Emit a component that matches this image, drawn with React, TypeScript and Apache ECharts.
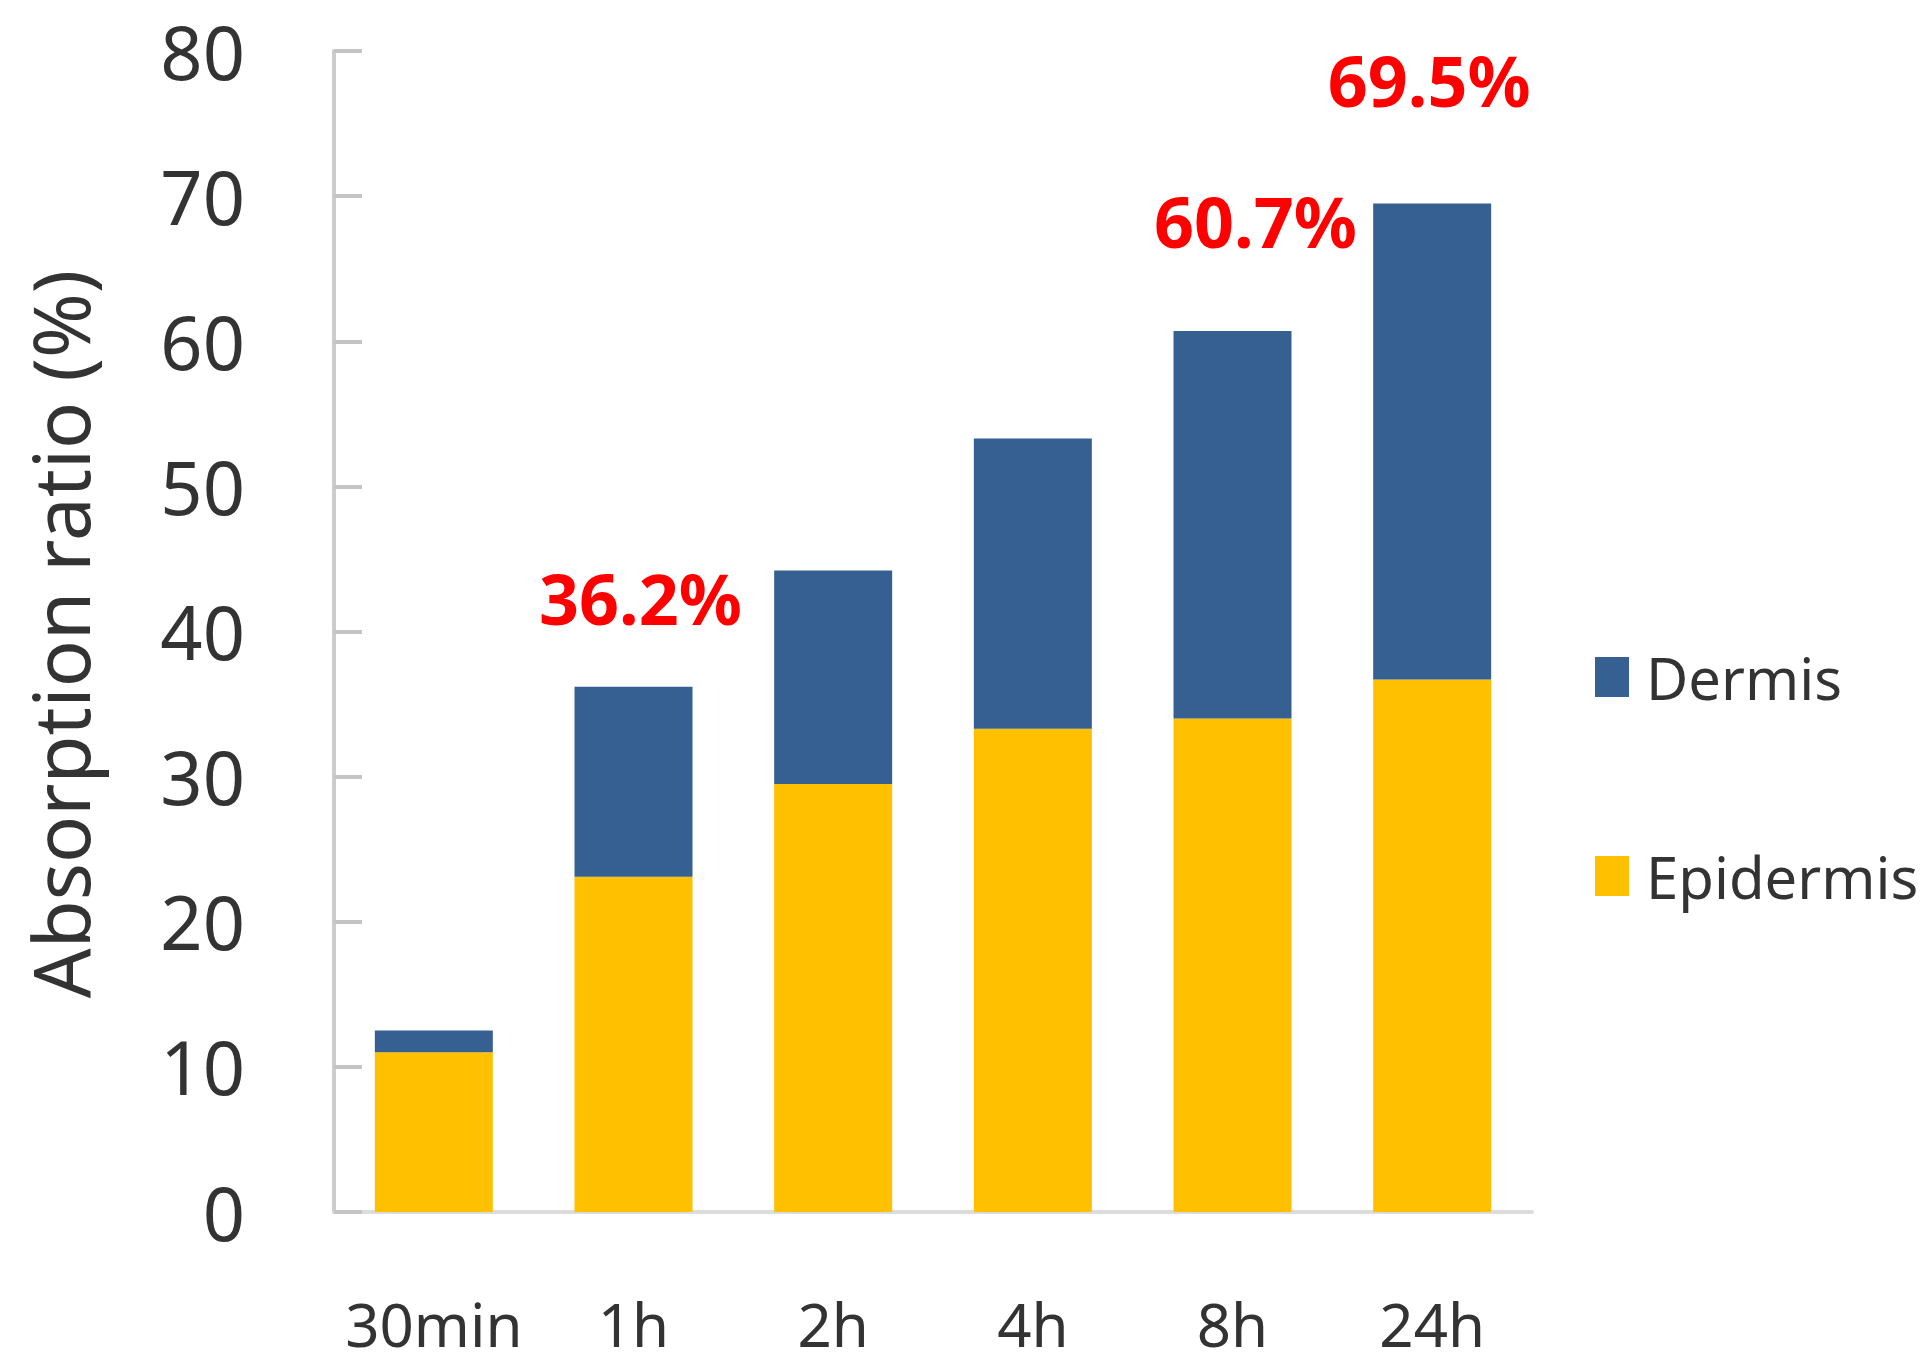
import React, { useEffect, useRef } from "react";
import * as echarts from "echarts";

const categories = ["30min", "1h", "2h", "4h", "8h", "24h"];
const epidermis = [11.0, 23.1, 29.5, 33.3, 34.0, 36.7];
const dermis = [1.5, 13.1, 14.7, 20.0, 26.7, 32.8];
const totalLabels = ["", "36.2%", "", "", "60.7%", "69.5%"];
const yMin = 0;
const yMax = 80;
const yInterval = 10;

// label placement styling (not data)
const labelDistance = [0, 54, 0, 0, 75, 88];
const labelDx = [0, 7, 0, 0, 23, -3];

const FONT = "'Noto Sans', 'DejaVu Sans', sans-serif";

export default function App() {
  const ref = useRef<HTMLDivElement>(null);
  useEffect(() => {
    if (!ref.current) return;
    const chart = echarts.init(ref.current, undefined, { renderer: "svg" });
    const dermisData = dermis.map((v, i) =>
      totalLabels[i]
        ? {
            value: v,
            label: {
              show: true,
              position: "top",
              formatter: totalLabels[i],
              distance: labelDistance[i],
              offset: [labelDx[i], 0],
              color: "#FF0000",
              fontWeight: "bold",
              fontSize: 70,
              lineHeight: 70,
              fontFamily: FONT,
            },
          }
        : v
    );
    chart.setOption({
      animation: false,
      backgroundColor: "#ffffff",
      grid: { left: 334, right: 397, top: 51, bottom: 156, containLabel: false },
      legend: {
        orient: "vertical",
        left: 1590,
        top: 641,
        data: ["Dermis", "Epidermis"],
        icon: "rect",
        itemWidth: 34,
        itemHeight: 40,
        itemGap: 137,
        textStyle: {
          fontSize: 58,
          lineHeight: 62,
          fontFamily: FONT,
          color: "#333333",
          padding: [0, 0, 0, 12],
        },
      },
      xAxis: {
        type: "category",
        data: categories,
        axisLine: { show: true, lineStyle: { color: "#dcdcdc", width: 4 } },
        axisTick: { show: false },
        axisLabel: {
          interval: 0,
          fontSize: 60,
          lineHeight: 60,
          fontFamily: FONT,
          color: "#333333",
          margin: 82,
        },
      },
      yAxis: {
        type: "value",
        min: yMin,
        max: yMax,
        interval: yInterval,
        splitLine: { show: false },
        axisLine: { show: true, lineStyle: { color: "#cccccc", width: 4 } },
        axisTick: {
          show: true,
          inside: true,
          length: 28,
          lineStyle: { color: "#c4c4c4", width: 4 },
        },
        axisLabel: {
          fontSize: 74,
          lineHeight: 74,
          fontFamily: FONT,
          color: "#333333",
          margin: 89,
        },
      },
      graphic: [
        {
          type: "text",
          x: 60,
          y: 634,
          rotation: Math.PI / 2,
          style: {
            text: "Absorption ratio (%)",
            fontSize: 78,
            fontFamily: FONT,
            fill: "#333333",
            align: "center",
            verticalAlign: "middle",
          },
        },
      ],
      series: [
        {
          name: "Epidermis",
          type: "bar",
          stack: "total",
          barWidth: 118,
          data: epidermis,
          itemStyle: { color: "#FFC000" },
        },
        {
          name: "Dermis",
          type: "bar",
          stack: "total",
          barWidth: 118,
          data: dermisData,
          itemStyle: { color: "#376092" },
        },
      ],
    });
    return () => chart.dispose();
  }, []);
  return (
    <div
      ref={ref}
      style={{ position: "fixed", left: 0, top: 0, width: 1929, height: 1368 }}
    />
  );
}
